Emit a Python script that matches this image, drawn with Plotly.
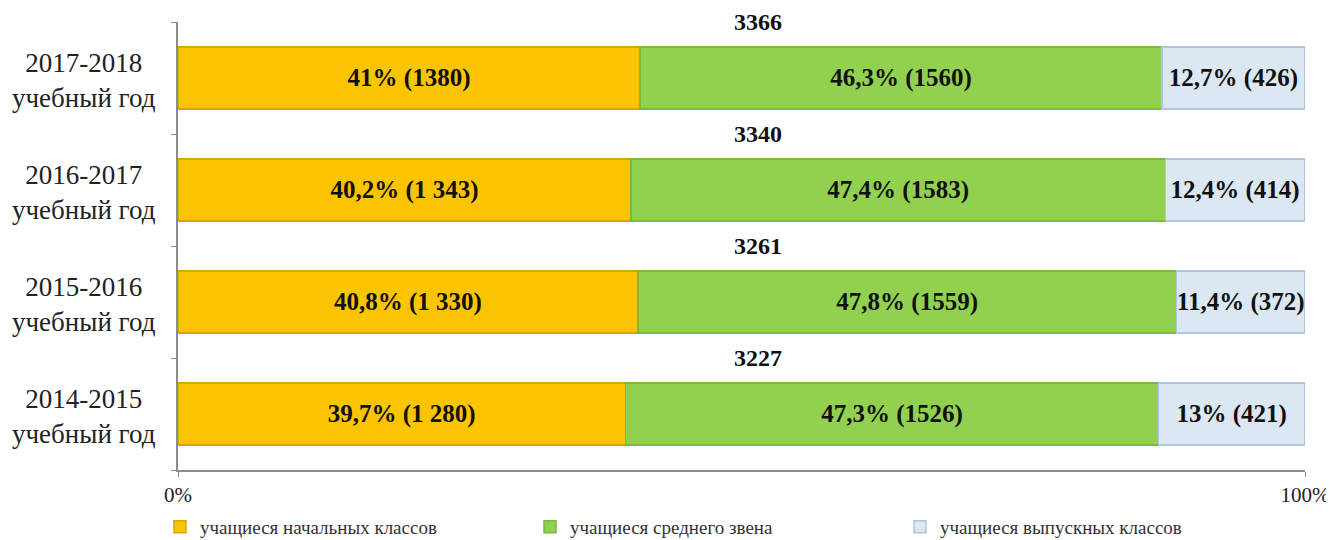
import plotly.graph_objects as go

# school years, bottom to top
years = ["2014-2015<br>учебный год", "2015-2016<br>учебный год",
         "2016-2017<br>учебный год", "2017-2018<br>учебный год"]

pct_primary = [39.7, 40.8, 40.2, 41]
cnt_primary = ["1 280", "1 330", "1 343", "1380"]
pct_middle = [47.3, 47.8, 47.4, 46.3]
cnt_middle = ["1526", "1559", "1583", "1560"]
pct_grad = [13, 11.4, 12.4, 12.7]
cnt_grad = ["421", "372", "414", "426"]
totals = [3227, 3261, 3340, 3366]

series_names = ["учащиеся начальных классов", "учащиеся среднего звена",
                "учащиеся выпускных классов"]
colors = ["#FAC400", "#92D050", "#DCE7F4"]
edges = ["#D9A800", "#7DB83E", "#AFC4DE"]

def pct_str(v):
    return ("%g" % v).replace(".", ",") + "%"

serif = "Liberation Serif"

fig = go.Figure()
for name, pcts, cnts, col, edge in zip(series_names,
                                       [pct_primary, pct_middle, pct_grad],
                                       [cnt_primary, cnt_middle, cnt_grad],
                                       colors, edges):
    fig.add_trace(go.Bar(
        y=years, x=pcts, name=name, orientation="h",
        marker=dict(color=col, line=dict(color=edge, width=1.5)),
        text=[pct_str(p) + " (" + c + ")" for p, c in zip(pcts, cnts)],
        textposition="inside", insidetextanchor="middle",
        textfont=dict(family=serif, size=25, color="#111111"),
        texttemplate="<b>%{text}</b>",
        hoverinfo="skip",
    ))

for yr, t in zip(years, totals):
    # totals above each bar
    fig.add_annotation(x=51.5, y=yr, xref="x", yref="y", yshift=56,
                       text="<b>%d</b>" % t, showarrow=False,
                       font=dict(family=serif, size=24, color="#111111"))
    # category labels, centred lines (plotly tick labels are right aligned)
    fig.add_annotation(x=-0.083, y=yr, xref="paper", yref="y", yshift=-2,
                       text=yr, showarrow=False, align="center",
                       xanchor="center", yanchor="middle",
                       font=dict(family=serif, size=27, color="#222222"))

# page body has an 8px margin, so the figure is 8px smaller than the window
fig.update_layout(
    barmode="stack", bargap=0.45,
    width=1326, height=532,
    margin=dict(l=170, r=29, t=14, b=70, autoexpand=False),
    plot_bgcolor="white", paper_bgcolor="white",
    uniformtext=dict(minsize=25, mode="show"),
    font=dict(family=serif, size=19, color="#222222"),
    legend=dict(orientation="h", x=-0.016, xanchor="left", y=-0.127, yanchor="middle",
                bgcolor="rgba(0,0,0,0)",
                font=dict(family=serif, size=19, color="#333333"),
                itemwidth=30, traceorder="normal", entrywidth=325),
    xaxis=dict(range=[0, 100], tickvals=[0, 100], ticktext=["0%", "100%"],
               showline=True, linecolor="#8c8c8c", linewidth=1.5,
               showgrid=True, gridcolor="#8c8c8c", gridwidth=1.5,
               ticks="outside", ticklen=5, tickcolor="#8c8c8c",
               ticklabeloverflow="allow",
               zeroline=False, tickfont=dict(family=serif, size=21)),
    yaxis=dict(range=[-0.5, 3.5], showticklabels=False,
               showline=True, linecolor="#8c8c8c", linewidth=1.5,
               ticks="outside", tickson="boundaries", ticklen=5,
               tickcolor="#8c8c8c"),
)

fig.write_html("out.html")
